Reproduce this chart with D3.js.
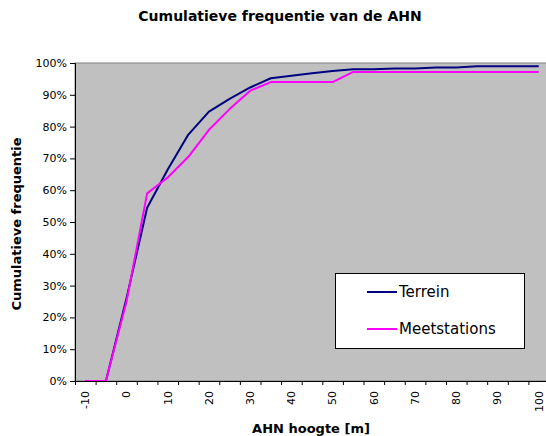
<!DOCTYPE html>
<html>
<head>
<meta charset="utf-8">
<script src="https://cdn.jsdelivr.net/npm/d3@7"></script>
<style>
  html, body { margin: 0; padding: 0; background: #fff; }
  svg { display: block; }
  text { font-family: "DejaVu Sans", Verdana, sans-serif; }
</style>
</head>
<body>
<svg id="chart" width="546" height="436"></svg>
<script>
// ---- data ----
const heights = [-10, -5, 0, 5, 10, 15, 20, 25, 30, 35, 40, 45, 50, 55, 60, 65, 70, 75, 80, 85, 90, 95, 100];
const terrein = [0, 0, 0.26, 0.545, 0.665, 0.775, 0.847, 0.887, 0.923, 0.952, 0.960, 0.968, 0.975, 0.980, 0.980, 0.983, 0.983, 0.986, 0.986, 0.990, 0.990, 0.990, 0.990];
const meetstations = [0, 0, 0.25, 0.59, 0.64, 0.705, 0.79, 0.855, 0.913, 0.940, 0.940, 0.940, 0.940, 0.972, 0.972, 0.972, 0.972, 0.972, 0.972, 0.972, 0.972, 0.972, 0.972];
const xTickLabels = [-10, 0, 10, 20, 30, 40, 50, 60, 70, 80, 90, 100];
const yTicks = [0, 0.1, 0.2, 0.3, 0.4, 0.5, 0.6, 0.7, 0.8, 0.9, 1.0];
const seriesNames = ["Terrein", "Meetstations"];
const seriesColors = ["#000080", "#FF00FF"];

// ---- layout ----
const svg = d3.select("#chart");
const pLeft = 75, pRight = 549, pTop = 63, pBottom = 381;

const x = d3.scaleBand().domain(heights).range([pLeft, pRight]).padding(0);
const xEdge = d3.scaleLinear().domain([0, heights.length]).range([pLeft, pRight]);
const y = d3.scaleLinear().domain([0, 1]).range([pBottom, pTop]);

// plot area
svg.append("rect")
  .attr("x", pLeft).attr("y", pTop)
  .attr("width", pRight - pLeft).attr("height", pBottom - pTop)
  .attr("fill", "#C0C0C0")
  .attr("stroke", "#808080").attr("stroke-width", 1);

// title
svg.append("text")
  .attr("x", 280).attr("y", 20.5)
  .attr("text-anchor", "middle")
  .attr("font-size", "14px").attr("font-weight", "bold")
  .text("Cumulatieve frequentie van de AHN");

// lines
const line = d3.line()
  .x((d, i) => x(heights[i]) + x.bandwidth() / 2)
  .y(d => y(d));

[terrein, meetstations].forEach((s, k) => {
  svg.append("path")
    .datum(s)
    .attr("fill", "none")
    .attr("stroke", seriesColors[k])
    .attr("stroke-width", 2)
    .attr("stroke-linejoin", "round")
    .attr("d", line);
});

// y axis
const yAxis = svg.append("g")
  .attr("transform", `translate(${pLeft},0)`)
  .call(d3.axisLeft(y).tickValues(yTicks).tickFormat(d3.format(".0%")).tickSize(5).tickPadding(3));
yAxis.selectAll("text").attr("font-size", "11px").attr("fill", "#000")
  .style("font-family", "'DejaVu Sans', Verdana, sans-serif");
yAxis.selectAll("line, path").attr("stroke", "#000");

// x axis tick marks at category boundaries
const xTicksG = svg.append("g")
  .attr("transform", `translate(0,${pBottom})`)
  .call(d3.axisBottom(xEdge).tickValues(d3.range(0, heights.length + 1)).tickFormat("").tickSize(4).tickSizeOuter(0));
xTicksG.selectAll("line, path").attr("stroke", "#000");

// x axis labels (rotated)
const xLab = svg.append("g")
  .attr("transform", `translate(0,${pBottom})`)
  .call(d3.axisBottom(x).tickValues(xTickLabels).tickSize(0).tickPadding(0));
xLab.select(".domain").remove();
xLab.selectAll("text")
  .attr("font-size", "11px").attr("fill", "#000")
  .style("font-family", "'DejaVu Sans', Verdana, sans-serif")
  .attr("text-anchor", "end")
  .attr("y", 0).attr("dy", "0.35em")
  .attr("transform", "translate(0,10) rotate(-90)");

// axis titles
svg.append("text")
  .attr("x", 311).attr("y", 433)
  .attr("text-anchor", "middle")
  .attr("font-size", "13px").attr("font-weight", "bold")
  .text("AHN hoogte [m]");

svg.append("text")
  .attr("transform", "translate(21,224) rotate(-90)")
  .attr("text-anchor", "middle")
  .attr("font-size", "13px").attr("font-weight", "bold")
  .text("Cumulatieve frequentie");

// legend
const lg = svg.append("g");
lg.append("rect")
  .attr("x", 335.5).attr("y", 273.5).attr("width", 189).attr("height", 75)
  .attr("fill", "#fff").attr("stroke", "#000").attr("stroke-width", 1);
seriesNames.forEach((n, k) => {
  const ly = 292 + k * 37;
  lg.append("line")
    .attr("x1", 367).attr("x2", 397).attr("y1", ly).attr("y2", ly)
    .attr("stroke", seriesColors[k]).attr("stroke-width", 2);
  lg.append("text")
    .attr("x", 399).attr("y", ly + 5)
    .attr("font-size", "15px").attr("fill", "#000")
    .text(n);
});
</script>
</body>
</html>
